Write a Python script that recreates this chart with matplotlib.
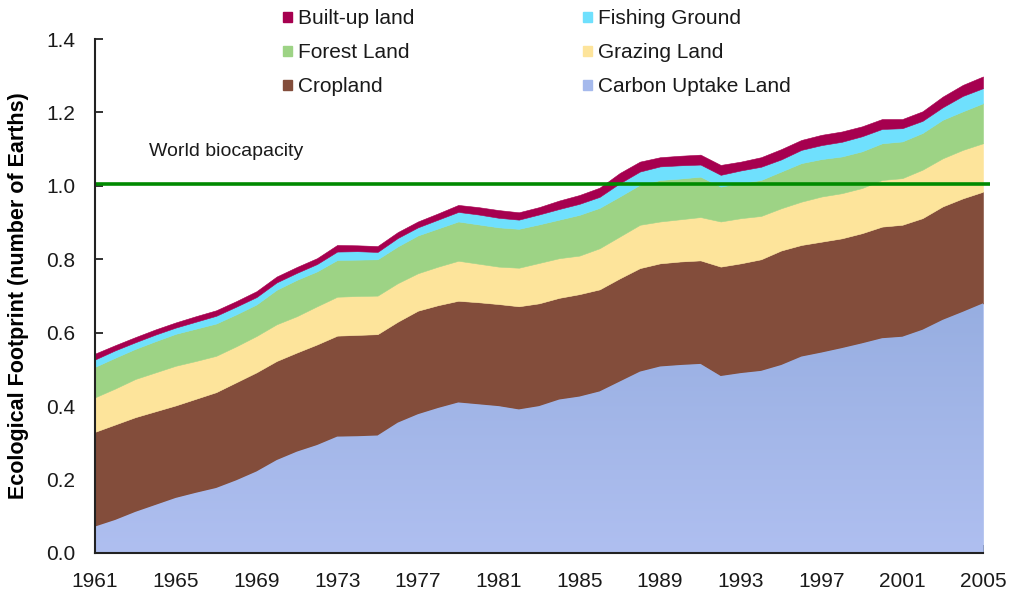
import numpy as np
import matplotlib
matplotlib.use("Agg")
import matplotlib.pyplot as plt
from matplotlib.patches import Rectangle
from matplotlib.colors import LinearSegmentedColormap

plt.rcParams['font.family'] = ['Liberation Sans', 'DejaVu Sans']

# Ecological footprint by land type, 1961-2005 (number of Earths)
years = list(range(1961, 2006))

carbon_uptake = [0.072, 0.090, 0.112, 0.131, 0.150, 0.164, 0.177, 0.198, 0.222, 0.253,
                 0.276, 0.294, 0.317, 0.318, 0.320, 0.355, 0.378, 0.395, 0.410, 0.405,
                 0.400, 0.391, 0.400, 0.418, 0.426, 0.440, 0.467, 0.494, 0.508, 0.512,
                 0.515, 0.482, 0.490, 0.496, 0.512, 0.535, 0.546, 0.558, 0.571, 0.585,
                 0.589, 0.608, 0.635, 0.657, 0.680]
cropland = [0.258, 0.260, 0.258, 0.255, 0.252, 0.256, 0.261, 0.267, 0.270, 0.270,
            0.270, 0.274, 0.275, 0.276, 0.276, 0.275, 0.282, 0.280, 0.277, 0.278,
            0.278, 0.281, 0.280, 0.277, 0.279, 0.278, 0.281, 0.282, 0.281, 0.282,
            0.282, 0.298, 0.299, 0.304, 0.312, 0.304, 0.302, 0.299, 0.300, 0.304,
            0.305, 0.304, 0.309, 0.309, 0.304]
grazing = [0.094, 0.098, 0.104, 0.106, 0.108, 0.103, 0.099, 0.098, 0.099, 0.100,
           0.099, 0.104, 0.106, 0.106, 0.105, 0.105, 0.102, 0.105, 0.109, 0.105,
           0.102, 0.105, 0.110, 0.108, 0.105, 0.112, 0.114, 0.118, 0.114, 0.115,
           0.118, 0.123, 0.123, 0.118, 0.115, 0.118, 0.123, 0.123, 0.123, 0.127,
           0.127, 0.132, 0.131, 0.132, 0.132]
forest = [0.083, 0.084, 0.082, 0.085, 0.087, 0.088, 0.088, 0.087, 0.086, 0.094,
          0.099, 0.095, 0.100, 0.099, 0.099, 0.100, 0.103, 0.104, 0.107, 0.107,
          0.107, 0.106, 0.105, 0.105, 0.111, 0.110, 0.109, 0.109, 0.113, 0.111,
          0.110, 0.095, 0.096, 0.098, 0.100, 0.105, 0.102, 0.100, 0.100, 0.100,
          0.100, 0.100, 0.105, 0.105, 0.109]
fishing = [0.020, 0.020, 0.018, 0.018, 0.017, 0.019, 0.021, 0.021, 0.020, 0.020,
           0.019, 0.020, 0.023, 0.023, 0.020, 0.023, 0.022, 0.024, 0.026, 0.027,
           0.026, 0.025, 0.027, 0.029, 0.030, 0.030, 0.036, 0.036, 0.037, 0.036,
           0.033, 0.032, 0.034, 0.036, 0.033, 0.036, 0.038, 0.040, 0.041, 0.039,
           0.036, 0.033, 0.034, 0.042, 0.041]
built_up = [0.016, 0.014, 0.014, 0.014, 0.014, 0.015, 0.015, 0.015, 0.016, 0.016,
            0.016, 0.016, 0.018, 0.016, 0.016, 0.016, 0.016, 0.017, 0.019, 0.020,
            0.021, 0.020, 0.020, 0.023, 0.024, 0.025, 0.028, 0.027, 0.025, 0.026,
            0.027, 0.027, 0.024, 0.026, 0.028, 0.027, 0.028, 0.028, 0.027, 0.027,
            0.025, 0.026, 0.029, 0.030, 0.032]

world_biocapacity = 1.005

layer_names = ["Carbon Uptake Land", "Cropland", "Grazing Land",
               "Forest Land", "Fishing Ground", "Built-up land"]
layer_colors = ["#A5B9EC", "#834D3B", "#FDE49B", "#9DD385", "#6FE0FD", "#A6004F"]

x_ticks = list(range(1961, 2006, 4))
y_ticks = [0.0, 0.2, 0.4, 0.6, 0.8, 1.0, 1.2, 1.4]

fig = plt.figure(figsize=(10.13, 6.01), dpi=100)
ax = fig.add_axes([0.0938, 0.0799, 0.8766, 0.8552])

layers = [carbon_uptake, cropland, grazing, forest, fishing, built_up]
polys = ax.stackplot(years, *layers, colors=layer_colors, linewidth=0.4,
                     edgecolor='face', zorder=2)

# soft vertical shading on the carbon layer
shade = LinearSegmentedColormap.from_list("carbon_shade", ["#AFBFF0", "#97AEE1"])
grad = np.linspace(0, 1, 256).reshape(-1, 1)
img = ax.imshow(grad, cmap=shade, origin='lower', aspect='auto',
                extent=[years[0], years[-1], 0, max(carbon_uptake)], zorder=2.1)
img.set_clip_path(polys[0].get_paths()[0], ax.transData)

ax.plot([1961, 2005.35], [world_biocapacity, world_biocapacity], color="#008A00",
        lw=2.6, zorder=4, clip_on=False, solid_capstyle='butt')
ax.text(1963.65, 1.093, "World biocapacity", fontsize=14, color="#1a1a1a",
        ha='left', va='center')

ax.set_xlim(1961, 2005)
ax.set_ylim(0, 1.4)
ax.set_xticks(x_ticks)
ax.set_yticks(y_ticks)
ax.set_yticklabels([f"{v:.1f}" for v in y_ticks])
ax.tick_params(axis='both', direction='in', length=6, width=1.3, color="#222222",
               labelsize=15, labelcolor="#1a1a1a")
ax.tick_params(axis='x', pad=14)
ax.tick_params(axis='y', pad=14)
for side in ('top', 'right'):
    ax.spines[side].set_visible(False)
for side in ('left', 'bottom'):
    ax.spines[side].set_linewidth(1.5)
    ax.spines[side].set_color("#222222")
    ax.spines[side].set_zorder(5)

ax.set_ylabel("Ecological Footprint (number of Earths)", fontsize=15.5,
              fontweight='bold')
ax.yaxis.set_label_coords(-0.0743, 0.5)

# two-column key above the plot
key_order = [5, 3, 1, 4, 2, 0]
col_x = [283, 583]
row_y = [18, 52, 86]
W, H = 1013.0, 601.0
for k, idx in enumerate(key_order):
    cx = col_x[k // 3]
    cy = row_y[k % 3]
    fig.patches.append(Rectangle((cx / W, 1 - (cy + 4) / H), 9 / W, 10 / H,
                                 transform=fig.transFigure, color=layer_colors[idx]))
    fig.text((cx + 15) / W, 1 - (cy + 1) / H, layer_names[idx], fontsize=15,
             ha='left', va='center', color="#1a1a1a")

fig.savefig("out.png", dpi=100)
